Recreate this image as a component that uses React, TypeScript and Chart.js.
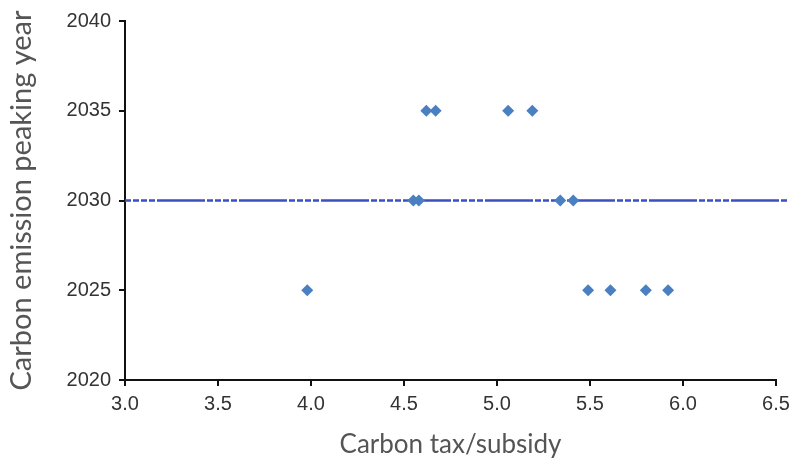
import React, { useEffect, useRef } from "react";
import { Chart, registerables } from "chart.js";

Chart.register(...registerables);

const taxValues2035 = [4.62, 4.67, 5.06, 5.19];
const taxValues2030 = [4.55, 4.58, 5.34, 5.41];
const taxValues2025 = [3.98, 5.49, 5.61, 5.8, 5.92];
const peakYears = [2035, 2030, 2025];
const baselineYear = 2030;
const baselineRange = [3.0, 6.56];
const xTicks = [3.0, 3.5, 4.0, 4.5, 5.0, 5.5, 6.0, 6.5];
const yTicks = [2020, 2025, 2030, 2035, 2040];

export default function App() {
  const ref = useRef<HTMLCanvasElement | null>(null);
  useEffect(() => {
    if (!ref.current) return;
    const groups = [taxValues2035, taxValues2030, taxValues2025];
    const points: { x: number; y: number }[] = [];
    groups.forEach((g, i) => g.forEach((x) => points.push({ x, y: peakYears[i] })));
    const chart = new Chart(ref.current, {
      type: "scatter",
      data: {
        datasets: [
          {
            type: "line",
            data: baselineRange.map((x) => ({ x, y: baselineYear })),
            borderColor: "#3b4fc2",
            borderWidth: 2.5,
            borderDash: [6, 2, 6, 2, 6, 2, 6, 2, 48, 2],
            pointRadius: 0,
            clip: false as any,
            order: 2,
          } as any,
          {
            data: points,
            pointStyle: "rectRot",
            pointRadius: 6,
            pointHoverRadius: 6,
            backgroundColor: "#4a7fc1",
            borderColor: "#4a7fc1",
            borderWidth: 0,
            order: 1,
          },
        ],
      },
      options: {
        animation: false,
        responsive: false,
        maintainAspectRatio: false,
        layout: { padding: { top: 21, right: 22, left: 0, bottom: 0 } },
        plugins: { legend: { display: false }, tooltip: { enabled: false } },
        scales: {
          x: {
            type: "linear",
            min: 3.0,
            max: 6.5,
            afterBuildTicks: (s: any) => {
              s.ticks = xTicks.map((v) => ({ value: v }));
            },
            afterFit: (s: any) => {
              s.height = 84;
            },
            grid: { drawOnChartArea: false, tickLength: 6, color: "#111", lineWidth: 2 },
            border: { color: "#111", width: 2 },
            ticks: {
              color: "#333",
              font: { family: "Liberation Sans", size: 20 },
              padding: 6,
              callback: (v: any) => Number(v).toFixed(1),
            },
            title: {
              display: true,
              text: "Carbon tax/subsidy",
              color: "#555",
              font: { family: "Lato", size: 26 },
              padding: { top: 9 },
            },
          },
          y: {
            type: "linear",
            min: 2020,
            max: 2040,
            afterBuildTicks: (s: any) => {
              s.ticks = yTicks.map((v) => ({ value: v }));
            },
            afterFit: (s: any) => {
              s.width = 125;
            },
            grid: { drawOnChartArea: false, tickLength: 6, color: "#111", lineWidth: 2 },
            border: { color: "#111", width: 2 },
            ticks: {
              color: "#333",
              font: { family: "Liberation Sans", size: 20 },
              padding: 8,
              callback: (v: any) => String(v),
            },
            title: {
              display: true,
              text: "Carbon emission peaking year",
              color: "#555",
              font: { family: "Lato", size: 29 },
              padding: { bottom: 4 },
            },
          },
        },
      },
    });
    return () => chart.destroy();
  }, []);
  return (
    <div style={{ position: "fixed", left: 0, top: 0, width: 798, height: 464, background: "#fff" }}>
      <canvas ref={ref} width={798} height={464} style={{ width: 798, height: 464 }} />
    </div>
  );
}
